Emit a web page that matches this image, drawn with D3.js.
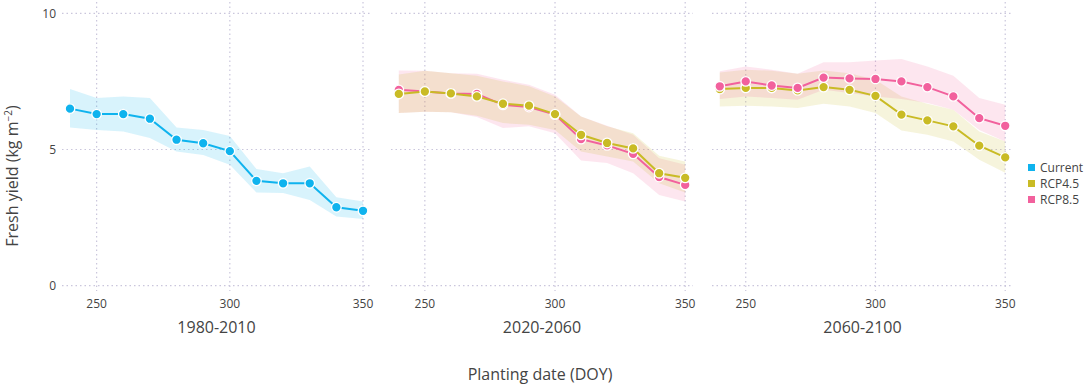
<!DOCTYPE html>
<html>
<head>
<meta charset="utf-8">
<script src="https://cdn.jsdelivr.net/npm/d3@7"></script>
<style>
  body { margin: 0; background: #fff; }
  svg { display: block; font-family: "Open Sans", sans-serif; }
</style>
</head>
<body>
<svg id="chart" width="1084" height="389"></svg>
<script>
const doy = [240, 250, 260, 270, 280, 290, 300, 310, 320, 330, 340, 350];
const periods = ["1980-2010", "2020-2060", "2060-2100"];
const seriesNames = ["Current", "RCP4.5", "RCP8.5"];
const xTicks = [250, 300, 350];
const yTicks = [0, 5, 10];

// 1980-2010, Current
const cur_mean = [6.50, 6.30, 6.30, 6.13, 5.36, 5.23, 4.94, 3.85, 3.76, 3.76, 2.88, 2.75];
const cur_hi   = [7.22, 6.89, 6.95, 6.89, 5.81, 5.72, 5.50, 4.28, 4.13, 4.38, 3.25, 3.09];
const cur_lo   = [5.81, 5.72, 5.66, 5.42, 4.93, 4.80, 4.44, 3.42, 3.40, 3.15, 2.54, 2.45];

// 2020-2060
const p2_45_mean = [7.04, 7.13, 7.06, 6.95, 6.68, 6.61, 6.30, 5.54, 5.24, 5.04, 4.13, 3.96];
const p2_45_hi   = [7.75, 7.89, 7.80, 7.71, 7.50, 7.32, 6.95, 6.21, 5.85, 5.60, 4.77, 4.56];
const p2_45_lo   = [6.34, 6.39, 6.37, 6.24, 5.97, 5.91, 5.72, 4.93, 4.74, 4.56, 3.76, 3.42];
const p2_85_mean = [7.19, 7.13, 7.06, 7.04, 6.64, 6.56, 6.28, 5.38, 5.15, 4.84, 3.99, 3.70];
const p2_85_hi   = [7.90, 7.89, 7.80, 7.78, 7.56, 7.38, 7.01, 6.21, 5.87, 5.54, 4.68, 4.44];
const p2_85_lo   = [6.34, 6.39, 6.37, 6.19, 5.79, 5.85, 5.60, 4.60, 4.50, 4.13, 3.33, 3.09];

// 2060-2100
const p3_45_mean = [7.22, 7.26, 7.26, 7.17, 7.29, 7.19, 6.97, 6.28, 6.07, 5.85, 5.14, 4.71];
const p3_45_hi   = [7.83, 7.93, 7.89, 7.78, 7.90, 7.80, 7.56, 6.95, 6.68, 6.46, 5.66, 5.29];
const p3_45_lo   = [6.58, 6.61, 6.58, 6.52, 6.68, 6.58, 6.34, 5.70, 5.54, 5.29, 4.62, 4.15];
const p3_85_mean = [7.32, 7.50, 7.35, 7.26, 7.64, 7.61, 7.59, 7.50, 7.29, 6.95, 6.15, 5.87];
const p3_85_hi   = [7.87, 8.05, 7.93, 7.78, 8.20, 8.20, 8.27, 8.32, 8.05, 7.71, 6.89, 6.64];
const p3_85_lo   = [6.85, 6.95, 6.89, 6.83, 7.19, 7.07, 6.95, 6.85, 6.71, 6.46, 5.72, 5.29];

const colors = { "Current": "#0fb3ee", "RCP4.5": "#c9bb25", "RCP8.5": "#f2619d" };

const panels = [
  { title: periods[0], range: [62, 371], series: [
      { name: "Current", mean: cur_mean, hi: cur_hi, lo: cur_lo } ] },
  { title: periods[1], range: [391, 693], series: [
      { name: "RCP8.5", mean: p2_85_mean, hi: p2_85_hi, lo: p2_85_lo },
      { name: "RCP4.5", mean: p2_45_mean, hi: p2_45_hi, lo: p2_45_lo } ] },
  { title: periods[2], range: [712, 1013], series: [
      { name: "RCP4.5", mean: p3_45_mean, hi: p3_45_hi, lo: p3_45_lo },
      { name: "RCP8.5", mean: p3_85_mean, hi: p3_85_hi, lo: p3_85_lo } ] }
];

const svg = d3.select("#chart");
const y = d3.scaleLinear().domain([0, 10]).range([285.7, 13.3]);
const gridColor = "#cac6dc";
const textColor = "#444";

panels.forEach((p, pi) => {
  const x = d3.scaleLinear().domain([237, 353]).range(p.range);
  const g = svg.append("g");

  // horizontal gridlines
  g.selectAll(".hg").data(yTicks).enter().append("line")
    .attr("x1", p.range[0]).attr("x2", p.range[1])
    .attr("y1", d => y(d)).attr("y2", d => y(d))
    .attr("stroke", gridColor).attr("stroke-width", 1.2)
    .attr("stroke-dasharray", "1.5,3");
  // vertical gridlines
  g.selectAll(".vg").data(xTicks).enter().append("line")
    .attr("x1", d => x(d)).attr("x2", d => x(d))
    .attr("y1", 2).attr("y2", 291)
    .attr("stroke", gridColor).attr("stroke-width", 1.2)
    .attr("stroke-dasharray", "1.5,3");

  // x tick labels
  g.selectAll(".xt").data(xTicks).enter().append("text")
    .attr("x", d => x(d)).attr("y", 308)
    .attr("text-anchor", "middle").attr("font-size", 12)
    .attr("fill", textColor).text(d => d);

  // y tick labels only first panel
  if (pi === 0) {
    g.selectAll(".yt").data(yTicks).enter().append("text")
      .attr("x", 56).attr("y", d => y(d) + 4.5)
      .attr("text-anchor", "end").attr("font-size", 12)
      .attr("fill", textColor).text(d => d);
  }

  // panel title
  g.append("text").attr("x", (p.range[0] + p.range[1]) / 2).attr("y", 333)
    .attr("text-anchor", "middle").attr("font-size", 16)
    .attr("fill", textColor).text(p.title);

  // bands
  p.series.forEach(s => {
    const area = d3.area()
      .x((d, i) => x(doy[i]))
      .y0((d, i) => y(s.lo[i]))
      .y1((d, i) => y(s.hi[i]));
    g.append("path").datum(s.mean).attr("d", area)
      .attr("fill", colors[s.name]).attr("fill-opacity", 0.16)
      .attr("stroke", "none");
  });
  // lines and points
  p.series.forEach(s => {
    const line = d3.line().x((d, i) => x(doy[i])).y(d => y(d));
    g.append("path").datum(s.mean).attr("d", line)
      .attr("fill", "none").attr("stroke", colors[s.name]).attr("stroke-width", 2);
    g.selectAll(null).data(s.mean).enter().append("circle")
      .attr("cx", (d, i) => x(doy[i])).attr("cy", d => y(d))
      .attr("r", 4.8).attr("fill", colors[s.name])
      .attr("stroke", "#fff").attr("stroke-width", 1.3);
  });
});

// axis titles
svg.append("text").attr("x", 540).attr("y", 380)
  .attr("text-anchor", "middle").attr("font-size", 16)
  .attr("fill", textColor).text("Planting date (DOY)");

const yt = svg.append("text")
  .attr("transform", "translate(18,176) rotate(-90)")
  .attr("text-anchor", "middle").attr("font-size", 16)
  .attr("fill", textColor);
yt.append("tspan").text("Fresh yield (kg m");
yt.append("tspan").attr("dy", -6).attr("font-size", 10).text("−2");
yt.append("tspan").attr("dy", 6).text(")");

// legend
const leg = svg.append("g");
seriesNames.forEach((n, i) => {
  const cy = 168 + i * 16;
  leg.append("rect").attr("x", 1028).attr("y", cy - 4).attr("width", 7).attr("height", 7)
    .attr("fill", colors[n]);
  leg.append("text").attr("x", 1040).attr("y", cy + 4)
    .attr("font-size", 12).attr("fill", textColor).text(n);
});
</script>
</body>
</html>
